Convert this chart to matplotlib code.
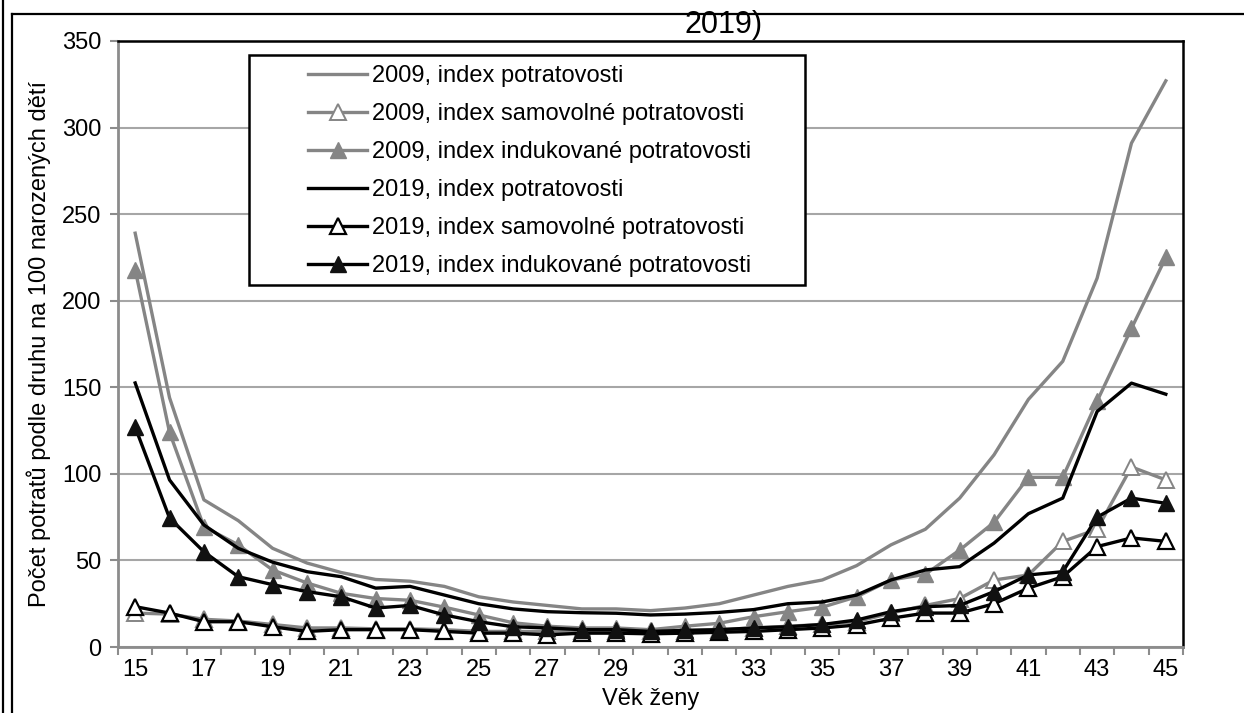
import matplotlib
matplotlib.use("Agg")
import matplotlib.pyplot as plt
from matplotlib.lines import Line2D
from matplotlib.patches import Rectangle
import numpy as np

plt.rcParams['font.family'] = ['Liberation Sans', 'DejaVu Sans']

ages = list(range(15, 46))

idx_2009 = [239, 144, 85, 73, 57, 48.5, 43, 39, 38, 35, 29, 26, 24, 22, 22, 21,
            22.5, 25, 30, 35, 38.7, 47, 59, 68, 86, 111, 143, 165, 213, 291, 327]
samo_2009 = [19.6, 19, 16, 15, 13, 11, 11, 10.5, 10.5, 10, 9, 9, 9, 9, 9, 9,
             9.5, 10, 11, 12, 13, 14.6, 19.6, 24, 28, 38.7, 41.6, 61, 68, 104, 96.5]
induk_2009 = [218, 124, 69.5, 59, 44.5, 37, 31, 28, 27, 23, 18.5, 14, 12, 11, 11, 10,
              12, 13.7, 17.5, 20.4, 23, 29, 38.7, 42, 56, 72, 98, 98, 142, 184, 225]
idx_2019 = [152.5, 96.5, 70.5, 57, 49, 43.5, 40.6, 34, 35, 30, 25, 22, 20.4, 19.8, 19.5, 18.5,
            19, 20, 21.6, 25, 26, 30, 38.7, 44.5, 46.4, 60, 77, 86, 136, 152.4, 146]
samo_2019 = [23.3, 19.6, 14.6, 14.6, 11.7, 9, 10, 10, 10, 9, 8, 8, 7, 8, 8, 7.6,
             8, 8.5, 9, 10, 11, 12.7, 16.6, 19.6, 19.6, 25, 34, 40.6, 58, 63, 61]
induk_2019 = [127, 74.5, 55, 40.6, 36, 32, 29, 22.5, 24, 18.5, 14.6, 11.7, 11, 10, 10, 9,
              9.6, 10, 11, 11.7, 13, 15.6, 20.4, 23.3, 24, 32, 41.6, 43.5, 75, 86, 83]

labels = ["2009, index potratovosti",
          "2009, index samovolné potratovosti",
          "2009, index indukované potratovosti",
          "2019, index potratovosti",
          "2019, index samovolné potratovosti",
          "2019, index indukované potratovosti"]

gray = "#858585"
black = "#000000"
fs = 17

fig = plt.figure(figsize=(12.44, 7.13), dpi=100)
ax = fig.add_axes([118/1244, 1-647/713, (1183-118)/1244, (647-41)/713])

lw = 2.4
ms = 11
ax.plot(ages, idx_2009, color=gray, lw=lw, label=labels[0])
ax.plot(ages, samo_2009, color=gray, lw=lw, marker="^", ms=ms, mfc="white",
        mec=gray, mew=1.4, label=labels[1])
ax.plot(ages, induk_2009, color=gray, lw=lw, marker="^", ms=ms, mfc=gray,
        mec=gray, label=labels[2])
ax.plot(ages, idx_2019, color=black, lw=lw, label=labels[3])
ax.plot(ages, samo_2019, color=black, lw=lw, marker="^", ms=ms, mfc="white",
        mec=black, mew=1.6, label=labels[4])
ax.plot(ages, induk_2019, color=black, lw=lw, marker="^", ms=ms, mfc="#111111",
        mec="#111111", label=labels[5])

ax.set_xlim(14.5, 45.5)
ax.set_ylim(0, 350)
ax.set_yticks(range(0, 351, 50))
ax.set_xticks(np.arange(14.5, 46, 1))
ax.set_xticklabels([])
ax.set_xticks(range(15, 46, 2), minor=True)
ax.set_xticklabels([str(a) for a in range(15, 46, 2)], minor=True, fontsize=fs)
ax.tick_params(axis="x", which="major", length=6, width=1.5, color="#8c8c8c", direction="out")
ax.tick_params(axis="x", which="minor", length=0, pad=9)
ax.tick_params(axis="y", length=6, width=1.5, color="#8c8c8c", labelsize=fs, pad=6)

ax.grid(axis="y", color="#a6a6a6", lw=1.5)
ax.set_axisbelow(True)
for s in ["left", "bottom"]:
    ax.spines[s].set_color("#8c8c8c")
    ax.spines[s].set_linewidth(2)
for s in ["top", "right"]:
    ax.spines[s].set_color("black")
    ax.spines[s].set_linewidth(1.8)

ax.set_xlabel("Věk ženy", fontsize=fs, labelpad=5)
ax.set_ylabel("Počet potratů podle druhu na 100 narozených dětí", fontsize=fs, labelpad=8)

# legend box drawn separately (wide empty margin on its left side)
def axc(x, y):
    return (x-118)/1065, (647-y)/606
x0, y0 = axc(249, 285)
x1, y1 = axc(805, 55)
ax.add_patch(Rectangle((x0, y0), x1-x0, y1-y0, transform=ax.transAxes,
                       facecolor="white", edgecolor="black", lw=1.8, zorder=4))
leg = ax.legend(loc="upper left", bbox_to_anchor=axc(301, 58),
                fontsize=fs, frameon=False, handlelength=2.5,
                handletextpad=0.2, labelspacing=0.68, borderpad=0.3,
                borderaxespad=0)
leg.set_zorder(5)

# part of the title that remains on the page
fig.text(724/1244, 1-25/713, "2019)", ha="center", va="center", fontsize=22)

# page frame lines
def px(x, y):
    return x/1244, 1-y/713
for (a0, b0), (a1, b1) in [((3, 0), (3, 713)), ((11.5, 14), (11.5, 713)), ((11.5, 14), (1244, 14))]:
    a, b = px(a0, b0)
    c, d = px(a1, b1)
    fig.add_artist(Line2D([a, c], [b, d], color="black", lw=1.6))

fig.savefig("out.png", dpi=100)
